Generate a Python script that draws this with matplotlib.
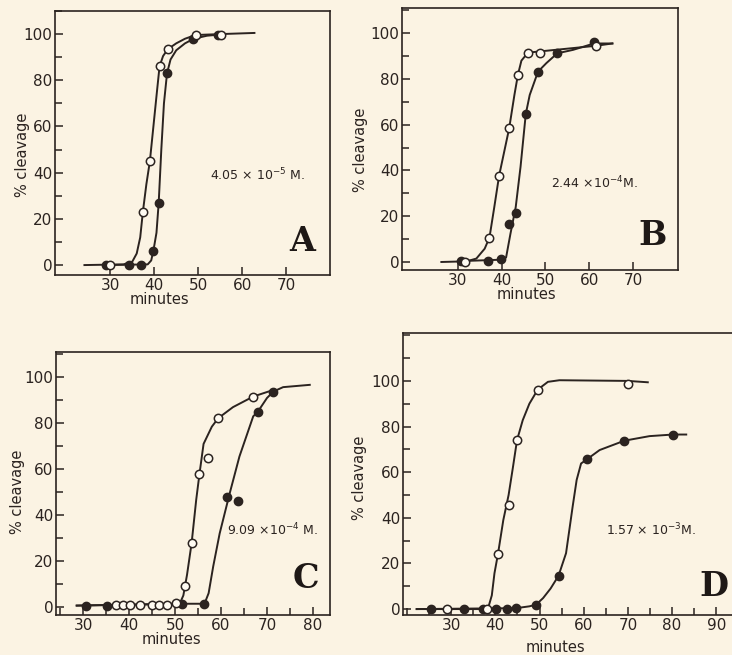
import matplotlib.pyplot as plt
from matplotlib.ticker import MultipleLocator

# panel A: 4.05e-5 M
a_open_x = [30, 37.4, 39.0, 41.2, 43.1, 49.4, 55.1]
a_open_y = [0, 23, 45, 86, 93.5, 99.6, 99.6]
a_fill_x = [28.9, 34.3, 36.9, 39.8, 41.0, 42.9, 48.9, 54.4]
a_fill_y = [0, 0, 0, 6.2, 26.8, 83, 98, 99.6]
a_open_cx = [24.1, 33, 35, 36, 36.8, 37.4, 38.2, 39.0, 39.8, 40.6, 41.2, 42.0, 43.1, 45, 47, 49.4, 55, 62.8]
a_open_cy = [0, 0.3, 1.5, 5, 12, 23, 35, 45, 60, 75, 86, 90.5, 93.5, 96, 98, 99.6, 100, 100.5]
a_fill_cx = [28.9, 38.5, 39.3, 39.8, 40.5, 41.0, 41.6, 42.2, 42.9, 43.7, 45, 47, 49, 52, 55]
a_fill_cy = [0, 0.3, 2, 6.2, 14, 26.8, 50, 70, 83, 89, 93, 96, 98, 99.3, 99.8]

# panel B: 2.44e-4 M
b_open_x = [31.7, 37.2, 39.4, 41.7, 43.7, 46.0, 48.7, 61.6]
b_open_y = [0, 10.7, 37.7, 58.4, 81.8, 91.5, 91.5, 94.5]
b_fill_x = [30.8, 36.9, 39.8, 41.7, 43.2, 45.5, 48.3, 52.7, 61.1]
b_fill_y = [0.4, 0.3, 1.5, 16.8, 21.2, 64.7, 83.2, 91.2, 96]
b_open_cx = [26.2, 32, 34.2, 36.1, 37.2, 38.3, 39.4, 41.7, 42.9, 43.7, 44.5, 46.0, 61.6, 65.3]
b_open_cy = [0, 0.3, 1.5, 5.8, 10.7, 24, 37.7, 58.4, 73, 81.8, 88, 91.5, 94.5, 95.5]
b_fill_cx = [30.8, 39.8, 41.0, 42.0, 43.2, 44.3, 45.5, 46.4, 48.3, 50.2, 52.7, 56.3, 61.1, 65.3]
b_fill_cy = [0.4, 1.0, 2.0, 12.4, 24, 41.6, 64.7, 73, 83.2, 86.9, 91.2, 92.7, 95.5, 95.5]

# panel C: 9.09e-4 M
c_open_x = [37.2, 38.6, 40.3, 42.3, 44.9, 46.5, 48.3, 50.3, 52.2, 53.6, 55.3, 57.2, 59.4, 67.0]
c_open_y = [1, 1, 1, 1, 1, 1, 1, 1.7, 9.3, 27.8, 57.8, 64.8, 82.2, 91.6]
c_fill_x = [30.6, 35.1, 51.4, 56.4, 61.3, 63.7, 68.0, 71.4]
c_fill_y = [0.6, 0.6, 1.4, 1.4, 47.8, 46.2, 85, 93.8]
c_open_cx = [28.6, 40, 51, 51.8, 52.6, 53.6, 54.6, 55.3, 56.2, 58.0, 59.4, 62.6, 67.0, 71.4]
c_open_cy = [0.6, 1.0, 1.4, 5, 14, 27.8, 46.7, 57.8, 71, 78.5, 82.2, 87, 91.6, 94.5]
c_fill_cx = [28.6, 51.4, 56.4, 57.3, 58.3, 59.7, 61.9, 64.0, 67.0, 68.0, 70.0, 71.4, 73.5, 79.3]
c_fill_cy = [0.6, 1.4, 1.4, 6, 17.7, 32, 49.6, 65.5, 83, 85, 91, 93.8, 95.7, 96.7]

# panel D: 1.57e-3 M
d_open_x = [29.0, 38.0, 40.6, 43.0, 44.9, 49.6, 70.0]
d_open_y = [0, 0, 24.2, 45.6, 74, 96.2, 98.8]
d_fill_x = [25.5, 33.0, 37.2, 40.2, 42.6, 44.7, 49.2, 54.3, 60.7, 69.2, 80.2]
d_fill_y = [0, 0, 0, 0, 0, 0.4, 1.9, 14.6, 65.6, 73.8, 76.5]
d_open_cx = [22.2, 38.3, 39.2, 39.8, 40.6, 41.8, 43.0, 44.0, 44.9, 46.2, 47.7, 49.6, 51.9, 54.5, 70.0, 74.5]
d_open_cy = [0, 0, 6, 15.7, 24.2, 39, 50, 62.4, 74, 82.8, 90, 96.2, 99.6, 100.3, 100, 99.4]
d_fill_cx = [22.2, 44.7, 47.7, 49.2, 50.8, 52.5, 54.3, 56.0, 57.5, 58.4, 59.4, 60.7, 63.6, 69.2, 74.9, 80.2, 83.2]
d_fill_cy = [0, 0.4, 1.2, 1.9, 4.8, 9, 14.6, 24.5, 45, 56.6, 63.8, 65.6, 69.7, 73.8, 75.8, 76.5, 76.5]

bg = '#fbf3e3'
ink = '#2b2320'

fig = plt.figure(figsize=(7.32, 6.55), dpi=100, facecolor=bg)

panels = [
    dict(rect=[55/732, 1-275/655, 275/732, 264/655], xlim=(17.4, 80), ylim=(-4.3, 110),
         ox=a_open_x, oy=a_open_y, fx=a_fill_x, fy=a_fill_y,
         ocx=a_open_cx, ocy=a_open_cy, fcx=a_fill_cx, fcy=a_fill_cy,
         conc='4.05 $\\times$ 10$^{-5}$ M.', cpos=(0.735, 0.379), letter='A', lpos=(0.898, 0.125),
         xticks=[30, 40, 50, 60, 70], xminor=None, xl=(0.38, -0.092), yl=(-0.118, 0.455)),
    dict(rect=[402/732, 1-270/655, 276/732, 262/655], xlim=(17.2, 80.3), ylim=(-3.5, 111),
         ox=b_open_x, oy=b_open_y, fx=b_fill_x, fy=b_fill_y,
         ocx=b_open_cx, ocy=b_open_cy, fcx=b_fill_cx, fcy=b_fill_cy,
         conc='2.44 $\\times$10$^{-4}$M.', cpos=(0.696, 0.332), letter='B', lpos=(0.909, 0.13),
         xticks=[30, 40, 50, 60, 70], xminor=None, xl=(0.45, -0.095), yl=(-0.152, 0.458)),
    dict(rect=[56/732, 1-615/655, 274/732, 263/655], xlim=(24.1, 83.7), ylim=(-3.5, 111),
         ox=c_open_x, oy=c_open_y, fx=c_fill_x, fy=c_fill_y,
         ocx=c_open_cx, ocy=c_open_cy, fcx=c_fill_cx, fcy=c_fill_cy,
         conc='9.09 $\\times$10$^{-4}$ M.', cpos=(0.79, 0.323), letter='C', lpos=(0.912, 0.14),
         xticks=[30, 40, 50, 60, 70, 80], xminor=5, xl=(0.423, -0.094), yl=(-0.142, 0.47)),
    dict(rect=[403/732, 1-615/655, 342/732, 282/655], xlim=(19.1, 96.5), ylim=(-2.6, 121),
         ox=d_open_x, oy=d_open_y, fx=d_fill_x, fy=d_fill_y,
         ocx=d_open_cx, ocy=d_open_cy, fcx=d_fill_cx, fcy=d_fill_cy,
         conc='1.57 $\\times$ 10$^{-3}$M.', cpos=(0.725, 0.30), letter='D', lpos=(0.91, 0.10),
         xticks=[30, 40, 50, 60, 70, 80, 90], xminor=5, xl=(0.447, -0.115), yl=(-0.126, 0.486)),
]

for p in panels:
    ax = fig.add_axes(p['rect'])
    ax.set_facecolor(bg)
    ax.plot(p['ocx'], p['ocy'], color=ink, lw=1.4, zorder=2)
    ax.plot(p['fcx'], p['fcy'], color=ink, lw=1.4, zorder=2)
    ax.plot(p['fx'], p['fy'], 'o', ms=6, mfc=ink, mec=ink, zorder=3)
    ax.plot(p['ox'], p['oy'], 'o', ms=6, mfc='#fffbf2', mec=ink, mew=1.1, zorder=4)
    ax.set_xlim(*p['xlim'])
    ax.set_ylim(*p['ylim'])
    ax.set_xticks(p['xticks'])
    ax.set_yticks([0, 20, 40, 60, 80, 100])
    ax.yaxis.set_minor_locator(MultipleLocator(10))
    if p['xminor']:
        ax.xaxis.set_minor_locator(MultipleLocator(p['xminor']))
    ax.tick_params(which='both', direction='in', color=ink, width=1.1, labelcolor=ink,
                   labelsize=11, pad=2)
    ax.tick_params(which='major', length=6)
    ax.tick_params(which='minor', length=5)
    for s in ax.spines.values():
        s.set_color(ink)
        s.set_linewidth(1.2)
    ax.set_xlabel('minutes', fontsize=10.5, color=ink, va='center')
    ax.set_ylabel('% cleavage', fontsize=10.5, color=ink, va='center')
    ax.xaxis.set_label_coords(*p['xl'])
    ax.yaxis.set_label_coords(*p['yl'])
    ax.text(*p['cpos'], p['conc'], transform=ax.transAxes, ha='center', va='center',
            fontsize=9, color=ink)
    ax.text(*p['lpos'], p['letter'], transform=ax.transAxes, ha='center', va='center',
            fontsize=24, fontweight='heavy', family='DejaVu Serif', color='#1e1816')

fig.savefig('out.png', dpi=100, facecolor=bg)
